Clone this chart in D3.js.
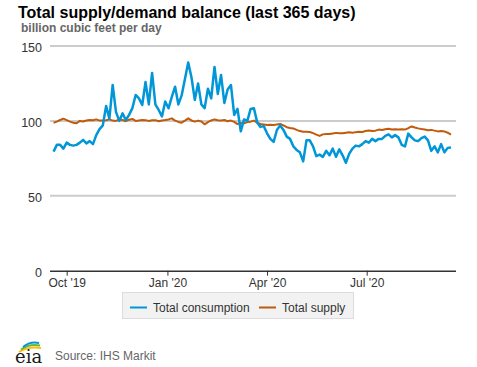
<!DOCTYPE html>
<html>
<head>
<meta charset="utf-8">
<script src="https://cdn.jsdelivr.net/npm/d3@7"></script>
<style>
  body { margin: 0; background: #fff; }
  svg { display: block; font-family: Arial, "Liberation Sans", sans-serif; }
</style>
</head>
<body>
<svg id="chart" width="477" height="367"></svg>
<script>
// daily series sampled every 3 days, first sample 19 Sep 2019
var startDate = new Date(2019, 8, 19);
var stepDays = 3;

var consumption = [
  79.5, 84, 84, 81.5, 85.5, 84, 83.5, 84, 85.5, 87.3,
  85, 86.5, 84.5, 90.5, 94.5, 97, 110, 101.5, 124, 106,
  100, 105, 100.6, 104, 108.5, 117.3, 115, 110.6, 126, 111,
  132, 111, 107.3, 103, 113, 108.4, 116, 122.8, 111, 117,
  128, 139, 129, 114, 125, 111, 108.5, 121.5, 115, 136,
  118, 130.6, 112, 121, 124, 104, 108, 93, 101, 100,
  108, 108.5, 99, 96, 96.5, 91.7, 88, 86, 93.9, 97,
  94, 89.5, 88, 83, 80.6, 79, 73, 87, 87, 83,
  76.5, 77.5, 76, 80, 77, 81.5, 76, 81, 77, 72,
  78, 81.5, 83.5, 83, 84.5, 86.5, 85.5, 88, 86.5, 88,
  88, 90, 91, 89, 90.5, 89, 84, 83, 91.5, 89,
  87, 86.5, 88.5, 89.5, 87, 80, 83, 79, 84.5, 79,
  82, 82.3
];

var supply = [
  98.8, 99.5, 100.6, 101.5, 100.5, 99.5, 98.8, 98.4, 100, 99.6,
  100.3, 100.6, 100.4, 101, 100.2, 100.3, 100.4, 101, 100.2, 100,
  101, 100.6, 99.8, 100.8, 101.3, 100, 100.3, 100.6, 100.5, 100,
  100.4, 100.5, 99.8, 100.3, 100.6, 101, 101.7, 100.2, 99.3, 98.8,
  100.2, 101.7, 100.3, 99.5, 100.2, 99.6, 97.7, 99.2, 100.3, 101,
  100.5, 100.2, 100.6, 99.8, 100.2, 99.3, 97.9, 98.6, 98.4, 99.2,
  99.5, 100.2, 98.8, 97.9, 97.6, 97.3, 97.5, 97.3, 97.6, 97.9,
  97, 95.8, 95.3, 95, 94, 93.2, 92.8, 92.8, 92.6, 91.8,
  90.8, 90, 91, 91.3, 91.2, 91.6, 92, 91.7, 91.8, 92.1,
  92.4, 92.1, 92.5, 92.8, 92.6, 93.2, 93.6, 93.3, 93.5, 94.2,
  93.9, 94.4, 94.8, 94.3, 94.5, 94.3, 94.5, 94.2, 95.2, 96.3,
  95.6, 95, 94.6, 94.3, 93.8, 94, 93.5, 93, 93.3, 93,
  92.1, 90.8
];

var seriesNames = ["Total consumption", "Total supply"];
var seriesColors = ["#0096d7", "#bf5b0b"];
var yTicks = [0, 50, 100, 150];
var xTicks = [new Date(2019, 9, 1), new Date(2020, 0, 1), new Date(2020, 3, 1), new Date(2020, 6, 1)];
var xTickLabels = ["Oct '19", "Jan '20", "Apr '20", "Jul '20"];

var svg = d3.select("#chart");

var x = d3.scaleTime()
  .domain([new Date(2019, 8, 15, 18), new Date(2020, 8, 20, 14)])
  .range([50, 456]);
var y = d3.scaleLinear()
  .domain([0, 150])
  .range([270.7, 46]);

// title + units
svg.append("text")
  .attr("x", 18).attr("y", 17.5)
  .attr("font-size", 16).attr("font-weight", "bold").attr("fill", "#000")
  .text("Total supply/demand balance (last 365 days)");
svg.append("text")
  .attr("x", 21).attr("y", 32)
  .attr("font-size", 12).attr("font-weight", "bold").attr("fill", "#666")
  .text("billion cubic feet per day");

// gridlines
svg.append("g")
  .selectAll("line")
  .data(yTicks.filter(function(d) { return d > 0; }))
  .enter().append("line")
  .attr("x1", 50).attr("x2", 456)
  .attr("y1", function(d) { return y(d); })
  .attr("y2", function(d) { return y(d); })
  .attr("stroke", "#cccccc").attr("stroke-width", 2);

// y labels
var yAxis = svg.append("g")
  .attr("transform", "translate(42,0)")
  .call(d3.axisLeft(y).tickValues(yTicks).tickSize(0).tickPadding(0));
yAxis.select(".domain").remove();
yAxis.selectAll("text")
  .attr("font-size", 12.5).attr("fill", "#333").attr("font-family", null)
  .attr("dy", "0.45em");

// x axis
var xAxis = svg.append("g")
  .attr("transform", "translate(0," + y(0) + ")")
  .call(d3.axisBottom(x).tickValues(xTicks).tickSize(5).tickPadding(3)
    .tickFormat(function(d, i) { return xTickLabels[i]; }))
  .attr("font-family", null);
xAxis.select(".domain")
  .attr("d", "M50,0.5H456")
  .attr("stroke", "#333").attr("stroke-width", 1.5);
xAxis.selectAll(".tick line").attr("stroke", "#333").attr("stroke-width", 1);
xAxis.selectAll("text").attr("font-size", 12).attr("fill", "#333");

// lines
function dateAt(i) { return d3.timeDay.offset(startDate, i * stepDays); }
var line = d3.line()
  .x(function(d, i) { return x(dateAt(i)); })
  .y(function(d) { return y(d); });

svg.append("path")
  .datum(supply)
  .attr("d", line)
  .attr("fill", "none")
  .attr("stroke", seriesColors[1]).attr("stroke-width", 2)
  .attr("stroke-linejoin", "round");

svg.append("path")
  .datum(consumption)
  .attr("d", line)
  .attr("fill", "none")
  .attr("stroke", seriesColors[0]).attr("stroke-width", 2.5)
  .attr("stroke-linejoin", "round");

// legend
var legend = svg.append("g");
legend.append("rect")
  .attr("x", 122.5).attr("y", 292.5).attr("width", 231).attr("height", 26)
  .attr("fill", "#f2f2f2").attr("stroke", "#dcdcdc");
var legendX = [130, 259];
seriesNames.forEach(function(name, i) {
  legend.append("line")
    .attr("x1", legendX[i]).attr("x2", legendX[i] + 17)
    .attr("y1", 307.5).attr("y2", 307.5)
    .attr("stroke", seriesColors[i]).attr("stroke-width", 2);
  legend.append("text")
    .attr("x", legendX[i] + 23).attr("y", 312)
    .attr("font-size", 12).attr("fill", "#333")
    .text(name);
});

// footer: eia logo and source
var logo = svg.append("g");
var arcs = [["#f4c400", 349], ["#6bb33f", 346.5], ["#0096d7", 344]];
arcs.forEach(function(a, i) {
  logo.append("path")
    .attr("d", "M" + (19 + i * 2) + "," + (a[1] + 3) + " Q" + (28 + i) + "," + (a[1] - 3) + " " + (41 - i) + "," + (a[1] - 1))
    .attr("fill", "none").attr("stroke", a[0]).attr("stroke-width", 1.8);
});
logo.append("text")
  .attr("x", 15).attr("y", 363)
  .attr("font-family", "'DejaVu Serif', 'Liberation Serif', serif")
  .attr("font-size", 18).attr("fill", "#1a1a1a")
  .text("eia");

svg.append("text")
  .attr("x", 55).attr("y", 360)
  .attr("font-size", 12).attr("fill", "#666")
  .text("Source: IHS Markit");
</script>
</body>
</html>
